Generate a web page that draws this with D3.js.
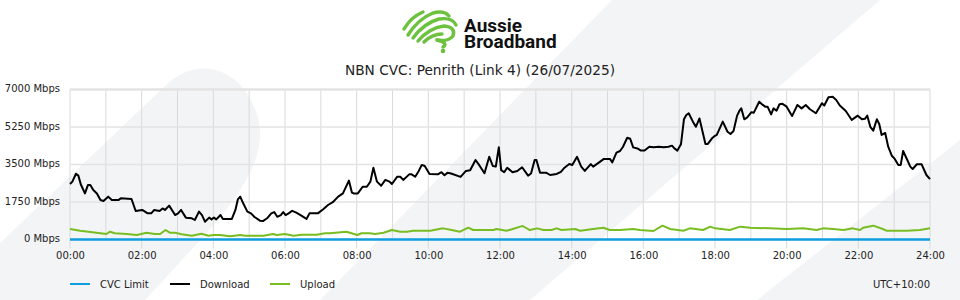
<!DOCTYPE html>
<html>
<head>
<meta charset="utf-8">
<script src="https://cdn.jsdelivr.net/npm/d3@7"></script>
<style>
  body { margin: 0; background: #fff; }
  svg { display: block; font-family: "DejaVu Sans", sans-serif; }
</style>
</head>
<body>
<script>
// minutes since midnight, Mbps
var downloadPts = [[0,2590],[4,2700],[10,3070],[14,2980],[18,2580],[25,2150],[30,2540],[34,2540],[39,2310],[45,2150],
  [51,1840],[56,1800],[64,2000],[70,1840],[81,1840],[85,1920],[103,1890],[110,1330],[121,1380],[130,1220],
  [136,1220],[141,1380],[150,1330],[155,1450],[159,1380],[166,1580],[176,1140],[181,1220],[186,1380],[194,1020],
  [204,990],[209,910],[216,1300],[221,1140],[226,830],[233,1020],[237,940],[241,1020],[245,940],[252,1140],
  [256,960],[271,960],[277,1380],[281,1870],[285,2000],[290,1690],[297,1300],[303,1220],[309,1050],[318,880],
  [323,860],[330,990],[337,1220],[342,1280],[347,1060],[353,1140],[357,1280],[361,1140],[366,1220],[372,1340],
  [379,1250],[386,1140],[396,960],[401,1220],[415,1220],[424,1410],[432,1610],[440,1740],[449,2000],[457,2150],
  [467,2750],[472,2190],[475,2150],[482,2150],[490,2460],[497,2460],[503,2700],[508,3350],[514,2700],[521,2510],
  [528,2780],[535,2700],[539,2590],[548,2930],[553,2930],[558,2780],[568,3040],[572,3040],[578,2930],[584,3200],
  [589,3480],[594,3430],[602,3060],[616,3040],[622,3140],[627,3000],[632,3110],[638,3080],[654,2920],[663,3200],
  [670,3230],[679,3710],[685,3480],[694,3090],[702,3860],[708,3430],[713,3400],[718,4300],[722,3240],[727,3140],
  [732,3350],[741,3140],[749,3200],[757,3370],[767,2980],[772,3080],[778,3710],[781,3710],[787,3120],[797,3120],
  [804,3010],[815,3060],[822,3160],[828,3350],[836,3520],[841,3480],[849,3860],[856,3400],[862,3200],[872,3520],
  [876,3400],[886,3600],[894,3760],[904,3760],[908,3600],[915,4050],[921,4130],[926,4330],[933,4750],[938,4700],
  [943,4300],[950,4250],[956,4150],[962,4150],[970,4330],[977,4300],[986,4330],[994,4300],[1002,4330],[1008,4380],
  [1012,4250],[1017,4150],[1023,4440],[1028,5610],[1032,5810],[1036,5890],[1043,5500],[1048,5260],[1054,5650],[1064,4460],
  [1068,4460],[1075,4720],[1080,4840],[1083,4880],[1093,5500],[1101,5030],[1106,4920],[1111,5060],[1117,5780],[1121,6010],
  [1124,6120],[1129,5610],[1134,5700],[1141,5940],[1145,5920],[1154,6430],[1160,6280],[1164,6200],[1168,6200],[1174,5840],
  [1178,6120],[1183,6010],[1188,6310],[1193,6330],[1200,6200],[1209,5760],[1218,6280],[1225,6120],[1232,6280],[1239,6080],
  [1249,5890],[1259,6360],[1263,6250],[1270,6640],[1277,6660],[1283,6510],[1289,6250],[1299,6000],[1309,5580],[1319,5780],
  [1326,5610],[1331,5630],[1335,5780],[1340,5260],[1345,5080],[1351,5610],[1355,5390],[1359,4880],[1365,4970],[1370,4330],
  [1376,3910],[1381,3760],[1387,3480],[1391,3480],[1395,4130],[1402,3710],[1407,3400],[1411,3290],[1418,3510],[1426,3510],
  [1434,3010],[1440,2820]];

var uploadPts = [[0,490],[17,410],[61,257],[67,364],[75,290],[95,257],[112,210],[128,317],[142,257],[151,257],
  [160,443],[167,317],[176,317],[187,243],[204,177],[220,270],[232,177],[240,210],[251,210],[268,150],
  [285,210],[293,177],[324,177],[340,257],[346,210],[360,257],[374,177],[388,225],[413,225],[427,290],
  [435,290],[463,364],[481,210],[488,290],[502,290],[511,257],[525,317],[539,443],[553,364],[564,364],
  [575,410],[603,410],[625,520],[639,443],[653,364],[667,550],[675,443],[709,443],[714,490],[731,410],
  [740,475],[754,600],[758,630],[770,443],[782,520],[793,443],[806,443],[815,520],[823,443],[846,490],
  [854,410],[876,490],[893,550],[904,443],[921,443],[943,490],[954,443],[977,397],[992,645],[1005,490],
  [1027,410],[1038,520],[1060,443],[1072,600],[1080,520],[1105,443],[1122,600],[1139,550],[1172,520],[1200,490],
  [1228,520],[1250,443],[1261,520],[1278,490],[1295,443],[1311,520],[1323,443],[1328,550],[1345,645],[1361,490],
  [1367,410],[1401,410],[1423,443],[1440,520]];

var cvcLimitPts = [[0,0],[1440,0]];

var yTicks = [0, 1750, 3500, 5250, 7000];
var xTickHours = [0, 2, 4, 6, 8, 10, 12, 14, 16, 18, 20, 22, 24];
var seriesNames = ["CVC Limit", "Download", "Upload"];
var seriesColors = ["#0e9ee0", "#000000", "#78bd22"];
var logoWords = ["Aussie", "Broadband"];
var title = "NBN CVC: Penrith (Link 4) (26/07/2025)";
var tzLabel = "UTC+10:00";

var W = 960, H = 300;
var margin = {top: 89.5, right: 30, bottom: 60.5, left: 70},
    width = W - margin.left - margin.right,
    height = H - margin.top - margin.bottom;

var svg = d3.select("body").append("svg")
    .attr("width", W)
    .attr("height", H);

// faint background shapes
var bg = svg.append("g").attr("fill", "#f3f4f6");
bg.append("path").attr("d", "M0,243 L165,86 C200,52 245,70 258,118 C266,150 250,185 205,235 L145,300 L0,300 Z");
bg.append("path").attr("d", "M612,0 L880,0 L530,300 L320,300 Z");
bg.append("path").attr("d", "M960,140 L960,300 L757,300 Z");

// logo
var logo = svg.append("g")
    .attr("fill", "none")
    .attr("stroke", "#6cc13f")
    .attr("stroke-width", 3.4)
    .attr("stroke-linecap", "round");
logo.append("path").attr("d", "M404,29 Q411,17 423,12");
logo.append("path").attr("d", "M408,35 Q418,19 433,13 Q444,10 449,16");
logo.append("path").attr("d", "M413,38 Q424,23 439,19 Q452,17 456,25");
logo.append("path").attr("d", "M418,41 Q429,28 444,26 Q456,27 453,36 Q448,42 437,40");
logo.append("path").attr("d", "M424,42 Q432,34 442,34");
logo.append("path").attr("d", "M437,40 Q449,43 443,47");
svg.append("circle").attr("cx", 443).attr("cy", 51).attr("r", 2.3).attr("fill", "#6cc13f");

// both words in one text block, stacked
var logoText = svg.append("text")
    .attr("font-family", "Roboto, sans-serif")
    .attr("font-weight", 700)
    .attr("font-size", 19)
    .attr("fill", "#111");
logoText.selectAll("tspan")
    .data(logoWords)
  .enter().append("tspan")
    .attr("x", 464)
    .attr("y", function(d, i) { return i === 0 ? 31.5 : 48; })
    .text(function(d) { return d; });

// title
svg.append("text")
    .attr("x", W / 2).attr("y", 75)
    .attr("text-anchor", "middle")
    .attr("font-size", 13.7)
    .attr("fill", "#222")
    .text(title);

var g = svg.append("g")
    .attr("transform", "translate(" + margin.left + "," + margin.top + ")");

// scales
var x = d3.scaleLinear().domain([0, 1440]).range([0, width]);
var y = d3.scaleLinear().domain([0, 7000]).range([height, 0]);

// grid
g.append("g").selectAll("line")
    .data(d3.range(0, 25))
  .enter().append("line")
    .attr("x1", function(d) { return x(d * 60); })
    .attr("x2", function(d) { return x(d * 60); })
    .attr("y1", 0)
    .attr("y2", function(d) { return d % 2 === 0 ? height + 9 : height; })
    .attr("stroke", "#dadada")
    .attr("stroke-width", 1);

g.append("g").selectAll("line")
    .data(yTicks)
  .enter().append("line")
    .attr("x1", 0).attr("x2", width)
    .attr("y1", function(d) { return y(d); })
    .attr("y2", function(d) { return y(d); })
    .attr("stroke", "#e3e3e3")
    .attr("stroke-width", function(d) { return d === 7000 ? 2.5 : 1.5; });

// x axis labels
var xAxis = g.append("g")
    .attr("transform", "translate(0," + height + ")")
    .call(d3.axisBottom(x)
        .tickValues(xTickHours.map(function(h) { return h * 60; }))
        .tickSize(0)
        .tickPadding(12)
        .tickFormat(function(d) { return d3.format("02d")(d / 60) + ":00"; }));
xAxis.select(".domain").remove();
xAxis.selectAll("text").attr("font-size", 10).attr("fill", "#222").attr("font-family", "DejaVu Sans");

// y axis labels
var yAxis = g.append("g")
    .call(d3.axisLeft(y)
        .tickValues(yTicks)
        .tickSize(0)
        .tickPadding(10)
        .tickFormat(function(d) { return d + " Mbps"; }));
yAxis.select(".domain").remove();
yAxis.selectAll("text").attr("font-size", 10).attr("fill", "#222").attr("font-family", "DejaVu Sans")
    .attr("dy", "0.2em");

// lines
var line = d3.line()
    .x(function(d) { return x(d[0]); })
    .y(function(d) { return y(d[1]); });

[uploadPts, downloadPts, cvcLimitPts].forEach(function(pts, i) {
  var idx = [2, 1, 0][i];
  g.append("path")
      .datum(pts)
      .attr("fill", "none")
      .attr("stroke", seriesColors[idx])
      .attr("stroke-width", idx === 0 ? 2.5 : 2)
      .attr("stroke-linejoin", "round")
      .attr("d", line);
});

// legend
var legend = svg.append("g").attr("transform", "translate(70,284)");
seriesNames.forEach(function(name, i) {
  var lg = legend.append("g").attr("transform", "translate(" + (i * 100) + ",0)");
  lg.append("line").attr("x1", 0).attr("x2", 20).attr("y1", 0).attr("y2", 0)
      .attr("stroke", seriesColors[i]).attr("stroke-width", 2);
  lg.append("text").attr("x", 30).attr("y", 0).attr("dy", "0.35em")
      .attr("font-size", 10).attr("fill", "#222").text(name);
});

svg.append("text")
    .attr("x", 930).attr("y", 284).attr("dy", "0.35em")
    .attr("text-anchor", "end")
    .attr("font-size", 10).attr("fill", "#222")
    .text(tzLabel);
</script>
</body>
</html>
